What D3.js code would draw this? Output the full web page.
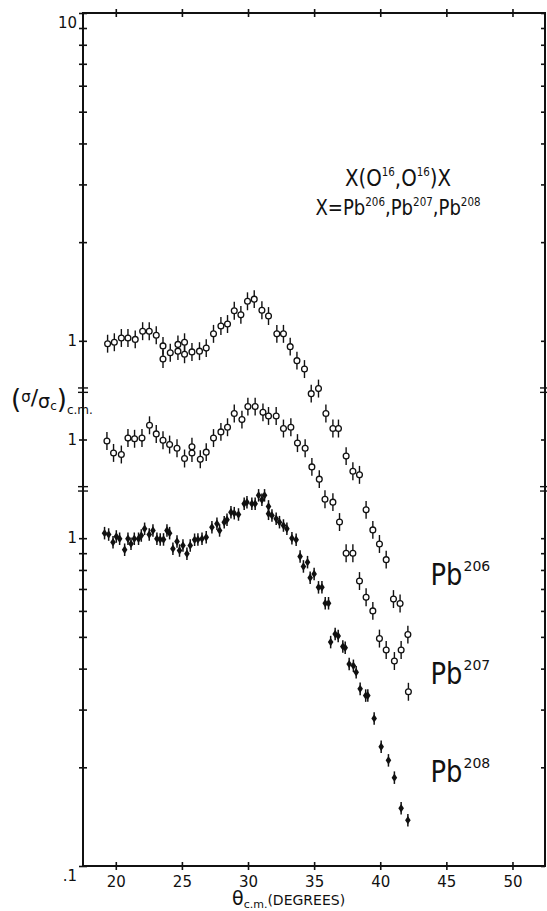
<!DOCTYPE html>
<html>
<head>
<meta charset="utf-8">
<script src="https://cdn.jsdelivr.net/npm/d3@7"></script>
<style>
  html, body { margin: 0; padding: 0; background: #fff; }
  svg { display: block; }
</style>
</head>
<body>
<svg id="chart" width="547" height="911"></svg>
<script>
// [theta c.m. in degrees, sigma / sigma_coulomb]
const pb206 = [
  [19.38, 0.98], [19.89, 0.99], [20.42, 1.02], [20.92, 1.02], [21.47, 1.01], [22.03, 1.07],
  [22.53, 1.07], [23.06, 1.04], [23.57, 0.965], [23.57, 0.88], [24.12, 0.92], [24.70, 0.93],
  [24.70, 0.975], [25.20, 0.99], [25.20, 0.91], [25.76, 0.925], [26.33, 0.93], [26.84, 0.95],
  [27.39, 1.05], [27.95, 1.11], [28.45, 1.125], [28.96, 1.235], [29.46, 1.2], [29.96, 1.32],
  [30.47, 1.34], [31.05, 1.24], [31.55, 1.19], [32.18, 1.05], [32.68, 1.05], [33.19, 0.96],
  [33.70, 0.87], [34.27, 0.82], [34.78, 0.69], [35.33, 0.715], [35.89, 0.6], [36.42, 0.54],
  [36.84, 0.54], [37.42, 0.445], [37.93, 0.4], [38.43, 0.39], [38.93, 0.305], [39.44, 0.265],
  [39.94, 0.24], [40.45, 0.215], [41.0, 0.163], [41.5, 0.158],
]
const pb207 = [
  [19.33, 0.99], [19.83, 0.91], [20.42, 0.9], [20.92, 1.01], [21.42, 1.005], [21.98, 1.01],
  [22.55, 1.105], [23.06, 1.04], [23.57, 0.995], [24.07, 0.965], [24.63, 0.94], [25.2, 0.875],
  [25.76, 0.95], [25.76, 0.91], [26.39, 0.87], [26.84, 0.915], [27.39, 1.01], [27.95, 1.055],
  [28.45, 1.09], [28.96, 1.2], [29.54, 1.15], [29.99, 1.26], [30.54, 1.26], [31.13, 1.21],
  [31.55, 1.18], [32.13, 1.18], [32.68, 1.08], [33.24, 1.09], [33.74, 0.975], [34.32, 0.94],
  [34.83, 0.825], [35.39, 0.757], [35.82, 0.657], [36.42, 0.644], [36.92, 0.56], [37.42, 0.45],
  [37.93, 0.45], [38.43, 0.37], [38.93, 0.33], [39.44, 0.3], [39.94, 0.247], [40.45, 0.228],
  [41.07, 0.211], [41.58, 0.228], [42.09, 0.254], [42.13, 0.17],
]
const pb208 = [
  [19.15, 1.036], [19.46, 1.026], [19.79, 0.972], [20.04, 1.012], [20.29, 0.996], [20.67, 0.922],
  [20.92, 0.996], [21.15, 0.961], [21.4, 0.996], [21.72, 0.996], [21.93, 1.019], [22.18, 1.068],
  [22.53, 1.026], [22.81, 1.056], [23.11, 0.996], [23.36, 0.991], [23.61, 0.991], [23.87, 1.056],
  [24.07, 1.036], [24.32, 0.928], [24.63, 0.977], [24.82, 0.917], [25.08, 0.95], [25.38, 0.896],
  [25.63, 0.95], [25.96, 0.989], [26.21, 0.991], [26.52, 0.996], [26.84, 1.007], [27.27, 1.08],
  [27.65, 1.107], [27.85, 1.056], [28.2, 1.119], [28.41, 1.138], [28.71, 1.2], [28.96, 1.192],
  [29.28, 1.181], [29.71, 1.274], [29.92, 1.288], [30.29, 1.274], [30.54, 1.274], [30.8, 1.351],
  [31.05, 1.31], [31.25, 1.351], [31.55, 1.25], [31.55, 1.187], [31.81, 1.173], [32.13, 1.146],
  [32.38, 1.119], [32.68, 1.093], [32.94, 1.068], [33.32, 1.0], [33.64, 0.989], [33.94, 0.879],
  [34.19, 0.82], [34.5, 0.845], [34.7, 0.757], [35.0, 0.778], [35.33, 0.708], [35.59, 0.708],
  [35.84, 0.633], [36.09, 0.633], [36.25, 0.482], [36.59, 0.51], [36.82, 0.503], [37.17, 0.467],
  [37.35, 0.463], [37.65, 0.413], [37.97, 0.408], [38.18, 0.39], [38.48, 0.347], [38.9, 0.331],
  [39.06, 0.331], [39.54, 0.282], [40.07, 0.231], [40.62, 0.21], [41.07, 0.186], [41.58, 0.15],
  [42.09, 0.138],
]

// broken ordinate: each isotope sits higher by a factor on one log axis
const shift206 = 4
const shift207 = 2
const shift208 = 1
const relErrOpen = 0.065
const relErrFilled = 0.045

const xDomain = [17.52, 52.46]
const yDomain = [0.1, 40]
const xTicks = [20, 25, 30, 35, 40, 45, 50]
const topTicks = [1, 2, 3, 4, 5, 6, 7, 8, 9, 10]
const topTickLabels = ["1", "", "", "", "", "", "", "", "", "10"]
const midTicks = [1]
const midTickLabels = ["1"]
const lowTicks = [0.1, 0.2, 0.3, 0.4, 0.5, 0.6, 0.7, 0.8, 0.9, 1]
const lowTickLabels = [".1", "", "", "", "", "", "", "", "", "1"]
const seriesNames = ["206", "207", "208"]

const W = 547
const H = 911
const m = {top: 13, right: 2, bottom: 45, left: 83}
const FONT = "'DejaVu Sans', sans-serif"
const INK = "#111"

const svg = d3.select("#chart").attr("font-family", FONT)
const x = d3.scaleLinear().domain(xDomain).range([m.left, W - m.right])
const y = d3.scaleLog().domain(yDomain).range([H - m.bottom, m.top])
const y0 = H - m.bottom
const x1 = W - m.right

// frame
svg.append("rect")
  .attr("x", m.left).attr("y", m.top)
  .attr("width", x1 - m.left).attr("height", y0 - m.top)
  .attr("fill", "none").attr("stroke", INK).attr("stroke-width", 2)

const crossTicks = (g, dir) => {
  g.select(".domain").remove()
  g.selectAll(".tick line").attr("stroke", INK).attr("stroke-width", 1.6)
  if (dir === "h") g.selectAll(".tick line").attr("y1", -4).attr("y2", 4)
  if (dir === "v") g.selectAll(".tick line").attr("x1", -4).attr("x2", 4)
}

// x axes
const gb = svg.append("g").attr("transform", `translate(0,${y0})`)
  .call(d3.axisBottom(x).tickValues(xTicks).tickSize(4).tickFormat(d3.format("d")))
crossTicks(gb, "h")
gb.selectAll(".tick text").attr("y", 10).attr("font-size", 15).attr("font-family", FONT).attr("fill", INK)

const gt = svg.append("g").attr("transform", `translate(0,${m.top})`)
  .call(d3.axisTop(x).tickValues(xTicks).tickSize(4).tickFormat(""))
crossTicks(gt, "h")

// y axes: the three stretches of the broken scale
const yTicks = [
  ...topTicks.map((v, i) => ({v: v * shift206, label: topTickLabels[i]})),
  ...midTicks.map((v, i) => ({v: v * shift207, label: midTickLabels[i]})),
  ...lowTicks.map((v, i) => ({v: v * shift208, label: lowTickLabels[i]})),
]
const gl = svg.append("g").attr("transform", `translate(${m.left},0)`)
  .call(d3.axisLeft(y).tickValues(yTicks.map((t) => t.v)).tickSize(4).tickPadding(2)
    .tickFormat((d, i) => yTicks[i].label))
crossTicks(gl, "v")
gl.selectAll(".tick text").attr("font-size", 15).attr("font-family", FONT).attr("fill", INK)
  .attr("dy", (d) => (d === yDomain[0] || d === yDomain[1] ? "0.95em" : "0.32em"))

const gr = svg.append("g").attr("transform", `translate(${x1},0)`)
  .call(d3.axisRight(y).tickValues(yTicks.map((t) => t.v)).tickSize(-4).tickFormat(""))
gr.select(".domain").remove()
gr.selectAll(".tick line").attr("stroke", INK).attr("stroke-width", 1.6)

// break marks between the stretches
const breaks = [Math.sqrt(shift206 * shift207), Math.sqrt(shift207 * shift208)]
for (const ax of [m.left, x1]) {
  for (const b of breaks) {
    for (const off of [-2.2, 2.2]) {
      svg.append("line")
        .attr("x1", ax - 5).attr("x2", ax + 5)
        .attr("y1", y(b) + off).attr("y2", y(b) + off)
        .attr("stroke", INK).attr("stroke-width", 1.4)
    }
  }
}

// data
const drawOpen = (data, shift) => {
  const g = svg.append("g")
  g.selectAll("line").data(data).join("line")
    .attr("x1", (d) => x(d[0])).attr("x2", (d) => x(d[0]))
    .attr("y1", (d) => y(d[1] * shift * (1 + relErrOpen)))
    .attr("y2", (d) => y((d[1] * shift) / (1 + relErrOpen)))
    .attr("stroke", INK).attr("stroke-width", 1.4)
  g.selectAll("circle").data(data).join("circle")
    .attr("cx", (d) => x(d[0])).attr("cy", (d) => y(d[1] * shift))
    .attr("r", 2.9).attr("fill", "#fff").attr("stroke", INK).attr("stroke-width", 1.3)
}
drawOpen(pb206, shift206)
drawOpen(pb207, shift207)

const g8 = svg.append("g")
g8.selectAll("line").data(pb208).join("line")
  .attr("x1", (d) => x(d[0])).attr("x2", (d) => x(d[0]))
  .attr("y1", (d) => y(d[1] * shift208 * (1 + relErrFilled)))
  .attr("y2", (d) => y((d[1] * shift208) / (1 + relErrFilled)))
  .attr("stroke", INK).attr("stroke-width", 1.5)
g8.selectAll("path").data(pb208).join("path")
  .attr("transform", (d) => `translate(${x(d[0])},${y(d[1] * shift208)})`)
  .attr("d", "M0,-4.2L2.8,0L0,4.2L-2.8,0Z")
  .attr("fill", INK)

// isotope labels beside the curve ends (narrow lettering)
const labelDeg = 43.8
const labelVal = 0.18
;[shift206, shift207, shift208].forEach((s, i) => {
  const lx = x(labelDeg)
  const ly = y(labelVal * s)
  svg.append("g").attr("transform", `translate(${lx},${ly}) scale(0.86,1)`)
    .append("text").attr("font-size", 30).attr("fill", INK).text("Pb")
  svg.append("text")
    .attr("x", lx + 33).attr("y", ly - 14)
    .attr("font-size", 14).attr("fill", INK)
    .text(seriesNames[i])
})

// title
const cx = 398
const title = (yy, size) =>
  svg.append("g").attr("transform", `translate(${cx},${yy}) scale(0.86,1)`)
    .append("text").attr("text-anchor", "middle").attr("font-size", size).attr("fill", INK)
const t1 = title(186, 23)
t1.append("tspan").text("X(O")
t1.append("tspan").attr("font-size", 12).attr("dy", -10).text("16")
t1.append("tspan").attr("dy", 10).text(",O")
t1.append("tspan").attr("font-size", 12).attr("dy", -10).text("16")
t1.append("tspan").attr("dy", 10).text(")X")

const t2 = title(215, 21)
t2.append("tspan").text("X=Pb")
seriesNames.forEach((n, i) => {
  t2.append("tspan").attr("font-size", 12).attr("dy", -9).text(n)
  if (i < seriesNames.length - 1) t2.append("tspan").attr("dy", 9).text(",Pb")
})

// axis titles
const yt = svg.append("text").attr("x", 11).attr("y", 408).attr("fill", INK).attr("font-size", 26)
yt.append("tspan").text("(")
yt.append("tspan").attr("font-size", 15).attr("dy", -6).text("σ")
yt.append("tspan").attr("font-size", 22).attr("dy", 3).text("/")
yt.append("tspan").attr("font-size", 19).attr("dy", 3).text("σ")
yt.append("tspan").attr("font-size", 12).attr("dy", 2).text("c")
yt.append("tspan").attr("dy", -2).text(")")
yt.append("tspan").attr("font-size", 12).attr("dy", 6).text("c.m.")

const xt = svg.append("text").attr("x", 232).attr("y", 905).attr("fill", INK).attr("font-size", 19)
xt.append("tspan").text("θ")
xt.append("tspan").attr("font-size", 11).attr("dy", 3).text("c.m.")
xt.append("tspan").attr("font-size", 14).attr("dy", -3).text("(DEGREES)")
</script>
</body>
</html>
